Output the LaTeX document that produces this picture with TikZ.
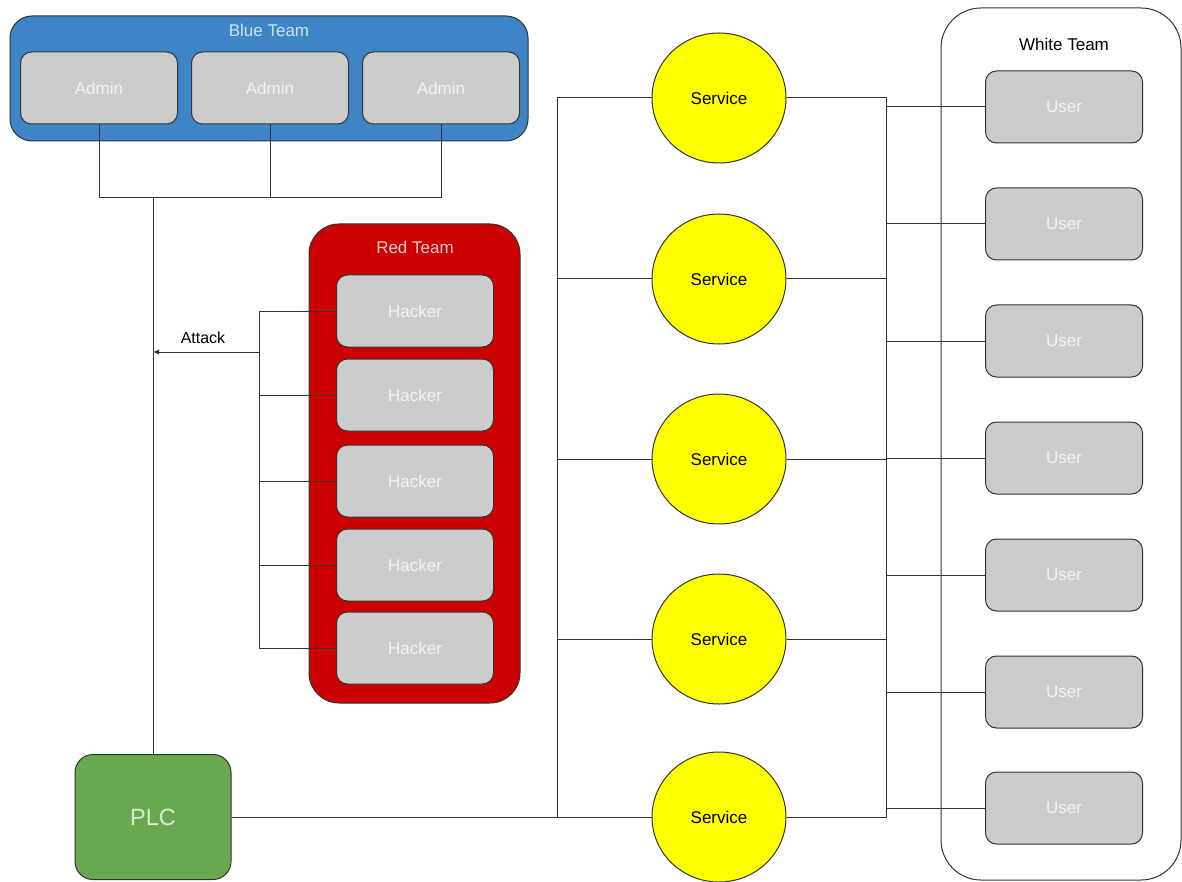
\documentclass[tikz,border=0pt]{standalone}
\usepackage{fontspec}
\setmainfont{Liberation Sans}
\usetikzlibrary{shapes.geometric,arrows.meta}
\definecolor{bluefill}{HTML}{3D85C6}
\definecolor{bluetitle}{HTML}{CFE2F3}
\definecolor{redfill}{HTML}{CC0000}
\definecolor{redtitle}{HTML}{F4CCCC}
\definecolor{greenfill}{HTML}{6AA84F}
\definecolor{greentext}{HTML}{D9EAD3}
\definecolor{boxgray}{HTML}{CCCCCC}
\definecolor{boxtext}{HTML}{F3F3F3}
\definecolor{edge}{HTML}{333333}
\definecolor{svcfill}{HTML}{FFFF00}
\pgfdeclarelayer{bg}
\pgfdeclarelayer{lines}
\pgfsetlayers{bg,lines,main}
\tikzset{
  member/.style={rectangle, rounded corners=11pt, draw=edge, line width=1pt, fill=boxgray, text=boxtext,
    font=\fontsize{17}{19}\selectfont, minimum width=157pt, minimum height=72pt, inner sep=0pt},
  service/.style={ellipse, draw=edge, line width=1pt, fill=svcfill, text=black,
    font=\fontsize{17}{19}\selectfont, minimum width=134pt, minimum height=130pt, inner sep=0pt},
  plcbox/.style={rectangle, rounded corners=18pt, draw=edge, line width=1pt, fill=greenfill, text=greentext,
    font=\fontsize{23.5}{26}\selectfont, minimum width=156pt, minimum height=125pt, inner sep=0pt},
  team/.style={draw=edge, line width=1pt},
  title/.style={font=\fontsize{17}{19}\selectfont, inner sep=0pt},
  wire/.style={draw=edge, line width=1pt},
}
\begin{document}
\begin{tikzpicture}[x=1pt,y=-1pt]
\useasboundingbox (0,0) rectangle (1182,882);
% containers
\begin{pgfonlayer}{bg}
  \fill[white] (0,0) rectangle (1182,882);
  \draw[team, fill=bluefill, rounded corners=22pt] (10,16) rectangle (528,141);
  \draw[team, fill=redfill, rounded corners=30pt] (309,224) rectangle (520,703);
  \draw[team, fill=white, rounded corners=40pt] (941,8) rectangle (1181,880);
\end{pgfonlayer}
\node[title, text=bluetitle] (bt) at (269,30) {Blue Team};
\node[title, text=redtitle] (rt) at (415,247) {Red Team};
\node[title, text=black] (wt) at (1064,44) {White Team};
% blue team
\node[member] (a1) at (99,88) {Admin};
\node[member] (a2) at (270,88) {Admin};
\node[member] (a3) at (441,88) {Admin};
% red team
\node[member] (h1) at (415,311) {Hacker};
\node[member] (h2) at (415,395) {Hacker};
\node[member] (h3) at (415,481) {Hacker};
\node[member] (h4) at (415,565) {Hacker};
\node[member] (h5) at (415,648) {Hacker};
% plc
\node[plcbox] (plc) at (153,817) {PLC};
% services
\node[service] (s1) at (719,98) {Service};
\node[service] (s2) at (719,279) {Service};
\node[service] (s3) at (719,459) {Service};
\node[service] (s4) at (719,639) {Service};
\node[service] (s5) at (719,817) {Service};
% users
\node[member] (u1) at (1064,107) {User};
\node[member] (u2) at (1064,224) {User};
\node[member] (u3) at (1064,341) {User};
\node[member] (u4) at (1064,458) {User};
\node[member] (u5) at (1064,575) {User};
\node[member] (u6) at (1064,692) {User};
\node[member] (u7) at (1064,808) {User};
% helper coordinates
\coordinate (ab) at (0,198);
\coordinate (bj) at (153,198);
\coordinate (hb) at (259,0);
\coordinate (atkfrom) at (259,352);
\coordinate (atkto) at (153,352);
\coordinate (lb) at (557,0);
\coordinate (rb) at (886,0);
\node[title, text=black, font=\fontsize{16}{18}\selectfont] (atk) at (203,338) {Attack};
\begin{pgfonlayer}{lines}
  % admins
  \draw[wire] (a1.south) -- (a1.south |- ab) -- (a3.south |- ab) -- (a3.south);
  \draw[wire] (a2.south) -- (a2.south |- ab);
  \draw[wire] (bj) -- (plc.north);
  % hackers
  \draw[wire] (h1.west) -- (h1.west -| hb) -- (h5.west -| hb) -- (h5.west);
  \foreach \h in {h2,h3,h4} \draw[wire] (\h.west) -- (\h.west -| hb);
  \draw[wire, -{Latex[length=6pt,width=5pt]}] (atkfrom) -- (atkto);
  % plc to services
  \draw[wire] (plc.east) -- (s5.west);
  \draw[wire] (s1.west) -- (s1.west -| lb) -- (s5.west -| lb);
  \foreach \s in {s2,s3,s4} \draw[wire] (\s.west) -- (\s.west -| lb);
  % services to users
  \draw[wire] (s1.east) -- (s1.east -| rb) -- (s5.east -| rb) -- (s5.east);
  \foreach \s in {s2,s3,s4} \draw[wire] (\s.east) -- (\s.east -| rb);
  \foreach \u in {u1,u2,u3,u4,u5,u6,u7} \draw[wire] (\u.west -| rb) -- (\u.west);
\end{pgfonlayer}
\end{tikzpicture}
\end{document}
